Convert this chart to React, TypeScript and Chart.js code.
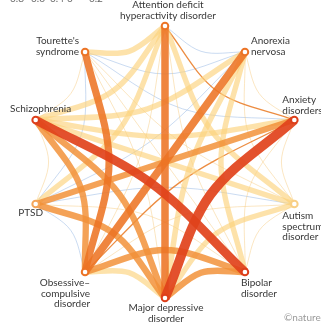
import React, { useEffect, useRef } from "react";
import { Chart, registerables } from "chart.js";

Chart.register(...registerables);

// ---- data ----
const DISORDERS: string[][] = [
  ["Attention deficit", "hyperactivity disorder"],
  ["Anorexia", "nervosa"],
  ["Anxiety", "disorders"],
  ["Autism", "spectrum", "disorder"],
  ["Bipolar", "disorder"],
  ["Major depressive", "disorder"],
  ["Obsessive–", "compulsive", "disorder"],
  ["PTSD"],
  ["Schizophrenia"],
  ["Tourette's", "syndrome"],
];

// pairs (index into DISORDERS), genetic correlation, significance flag
const EDGE_SOURCE = [0, 0, 0, 0, 0, 0, 0, 0, 0, 1, 1, 1, 1, 1, 1, 1, 1, 2, 2, 2, 2, 2, 2, 2, 3, 3, 3, 3, 3, 3, 4, 4, 4, 4, 4, 5, 5, 5, 5, 6, 6, 6, 7, 7, 8];
const EDGE_TARGET = [1, 2, 3, 4, 5, 6, 7, 8, 9, 2, 3, 4, 5, 6, 7, 8, 9, 3, 4, 5, 6, 7, 8, 9, 4, 5, 6, 7, 8, 9, 5, 6, 7, 8, 9, 6, 7, 8, 9, 7, 8, 9, 8, 9, 9];
const EDGE_RG = [-0.1, 0.4, 0.2, 0.15, 0.5, 0.1, 0.18, 0.22, 0.22, 0.1, 0.05, 0.2, 0.22, 0.53, -0.05, 0.22, -0.05, 0.05, 0.12, 0.79, 0.35, 0.3, 0.2, -0.05, 0.05, 0.18, 0.1, -0.05, 0.21, 0.1, 0.35, 0.33, 0.1, 0.68, 0.05, 0.22, 0.35, 0.34, 0.15, -0.05, 0.33, 0.45, 0.1, -0.05, 0.05];
const EDGE_SIG = [0, 0, 1, 0, 1, 0, 1, 1, 1, 0, 0, 1, 1, 1, 0, 1, 0, 0, 0, 1, 0, 1, 1, 0, 0, 1, 0, 0, 1, 0, 1, 1, 0, 1, 0, 1, 1, 1, 0, 0, 1, 1, 0, 0, 0];

// colour-scale tick labels (cut off at the top of the picture)
const SCALE_TICKS = ["0.8", "0.6", "0.4", "0", "–0.2"];
const CREDIT = "©nature";

// ---- styling helpers ----
function edgeColor(rg: number, sig: number): string {
  if (rg < 0) return "rgba(160,190,230,0.8)";
  if (!sig) return rg >= 0.3 ? "rgba(234,128,44,0.9)" : "rgba(247,205,130,0.7)";
  if (rg < 0.28) return "rgba(252,210,125,0.65)";
  if (rg < 0.4) return "rgba(242,146,58,0.85)";
  if (rg < 0.6) return "rgba(237,116,36,0.88)";
  return "rgba(225,66,27,0.92)";
}
function edgeWidth(rg: number, sig: number): number {
  if (!sig) return rg >= 0.3 ? 1.3 : 0.7;
  return 4 + 7 * rg;
}
function nodeColor(rg: number): string {
  if (rg >= 0.6) return "#dd3f1b";
  if (rg >= 0.4) return "#ec7426";
  if (rg >= 0.3) return "#f4a55a";
  return "#f8cf86";
}

const N = DISORDERS.length;
const angleOf = (i: number) => ((90 - (360 / N) * i) * Math.PI) / 180;
const nodePos = (i: number) => ({ x: Math.cos(angleOf(i)), y: Math.sin(angleOf(i)) });

// label layout (pixel offsets from each node)
const LABEL_LAYOUT: { dx: number; dy: number; align: CanvasTextAlign }[] = [
  { dx: 3, dy: -21, align: "center" },
  { dx: 6, dy: -11, align: "left" },
  { dx: -12, dy: -20, align: "left" },
  { dx: -12, dy: 12, align: "left" },
  { dx: -4, dy: 11, align: "left" },
  { dx: 1, dy: 10, align: "center" },
  { dx: 5, dy: 11, align: "right" },
  { dx: -5, dy: 9, align: "center" },
  { dx: 5, dy: -11, align: "center" },
  { dx: -6, dy: -11, align: "right" },
];
const FONT = "10px Lato, 'Noto Sans', sans-serif";
const LINE_H = 10.6;

const labelPlugin = {
  id: "nodeLabels",
  afterDraw(chart: any) {
    const { ctx, scales } = chart;
    ctx.save();
    ctx.font = FONT;
    ctx.fillStyle = "#383838";
    ctx.textBaseline = "middle";
    DISORDERS.forEach((lines, i) => {
      const p = nodePos(i);
      const px = scales.x.getPixelForValue(p.x);
      const py = scales.y.getPixelForValue(p.y);
      const l = LABEL_LAYOUT[i];
      ctx.textAlign = l.align;
      lines.forEach((t, j) => ctx.fillText(t, px + l.dx, py + l.dy + j * LINE_H));
    });
    // cut-off colour scale labels
    ctx.fillStyle = "#666";
    ctx.textAlign = "center";
    ctx.textBaseline = "alphabetic";
    const tickX = [17, 38, 57, 70, 93];
    SCALE_TICKS.forEach((t, i) => ctx.fillText(t, tickX[i], 2));
    // credit
    ctx.fillStyle = "#9a9a9a";
    ctx.textAlign = "left";
    ctx.textBaseline = "middle";
    ctx.fillText(CREDIT, 284, 318);
    ctx.restore();
  },
};

export default function App() {
  const ref = useRef<HTMLCanvasElement | null>(null);
  useEffect(() => {
    if (!ref.current) return;
    const datasets: any[] = [];
    const maxRg = new Array(N).fill(0);
    EDGE_SOURCE.forEach((s, e) => {
      const t = EDGE_TARGET[e];
      const rg = EDGE_RG[e];
      const sig = EDGE_SIG[e];
      if (sig && rg > maxRg[s]) maxRg[s] = rg;
      if (sig && rg > maxRg[t]) maxRg[t] = rg;
      const a = nodePos(s);
      const b = nodePos(t);
      let sep = Math.abs(s - t) * (360 / N);
      if (sep > 180) sep = 360 - sep;
      const k = sep / 180; // bend toward the centre
      const mid = { x: ((a.x + b.x) / 2) * (1 - k / 2), y: ((a.y + b.y) / 2) * (1 - k / 2) };
      datasets.push({
        type: "scatter",
        data: [a, mid, b],
        showLine: true,
        tension: 1 / 3,
        pointRadius: 0,
        borderColor: edgeColor(rg, sig),
        borderWidth: edgeWidth(rg, sig),
        borderCapStyle: "butt",
        fill: false,
        order: -Math.round((sig ? 1 : 0) * 1000 + rg * 100),
      });
    });
    datasets.push({
      type: "scatter",
      data: DISORDERS.map((_, i) => nodePos(i)),
      pointRadius: 3.3,
      pointBorderWidth: 2,
      pointBackgroundColor: "#ffffff",
      pointBorderColor: maxRg.map((r) => nodeColor(r)),
      order: -5000,
    });
    const R = 136;
    const cx = 165;
    const cy = 162;
    const chart = new Chart(ref.current, {
      type: "scatter",
      data: { datasets },
      options: {
        animation: false,
        responsive: false,
        maintainAspectRatio: false,
        devicePixelRatio: 1,
        events: [],
        layout: { padding: 0, autoPadding: false },
        plugins: { legend: { display: false }, tooltip: { enabled: false } },
        scales: {
          x: { type: "linear", display: false, min: -cx / R, max: (321 - cx) / R },
          y: { type: "linear", display: false, min: -(328 - cy) / R, max: cy / R },
        },
      },
      plugins: [labelPlugin],
    });
    return () => chart.destroy();
  }, []);
  return (
    <div style={{ position: "fixed", left: 0, top: 0, width: 321, height: 328, background: "#fff" }}>
      <canvas ref={ref} width={321} height={328} style={{ display: "block" }} />
    </div>
  );
}
